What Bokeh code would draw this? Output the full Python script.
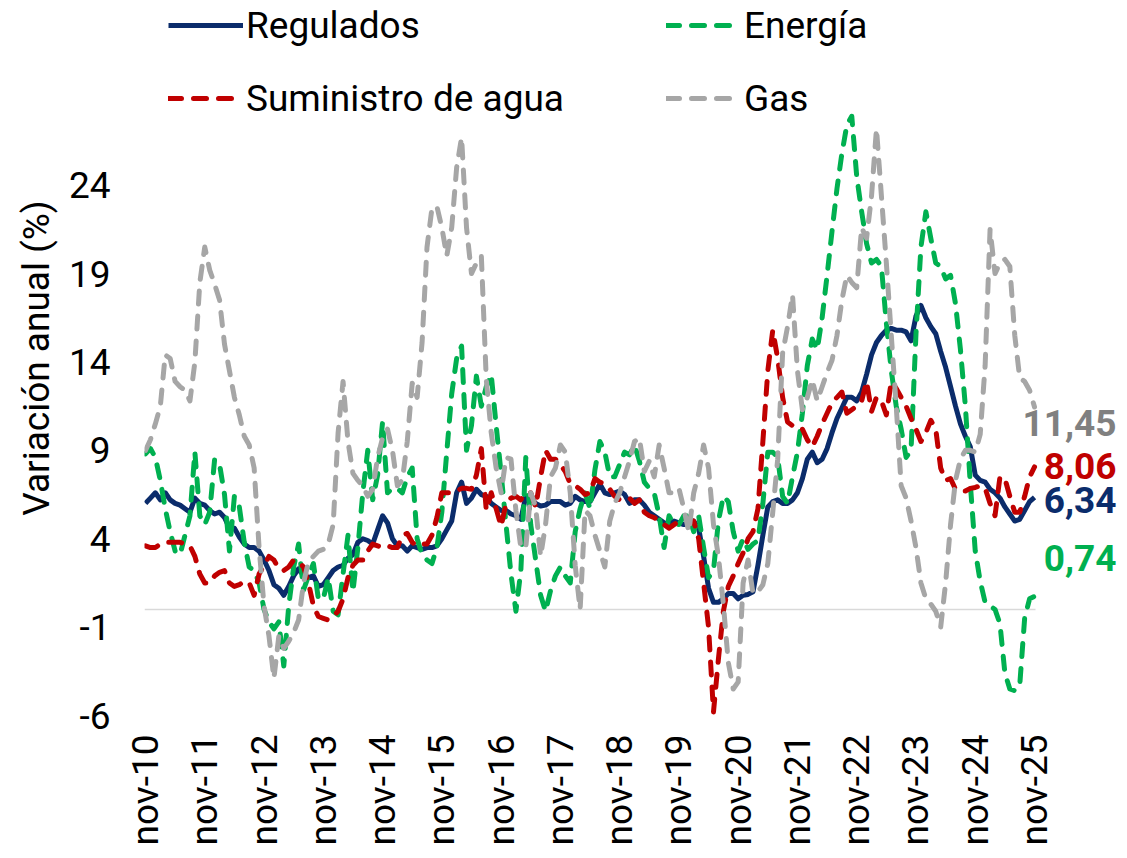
import math
from bokeh.plotting import figure
from bokeh.models import Range1d, FixedTicker, Legend, LegendItem, Label
from bokeh.embed import file_html
from bokeh.resources import INLINE

tick_labels = ["nov-10", "nov-11", "nov-12", "nov-13", "nov-14", "nov-15", "nov-16", "nov-17",
               "nov-18", "nov-19", "nov-20", "nov-21", "nov-22", "nov-23", "nov-24", "nov-25"]
y_ticks = [-6, -1, 4, 9, 14, 19, 24]

regulados = [
    6.0, 6.3, 6.6, 6.2, 6.6, 6.2, 6.0, 5.9, 5.7, 5.5,
    6.3, 6.0, 5.9, 5.6, 5.4, 5.5, 5.2, 4.6, 4.6, 4.1,
    3.7, 3.5, 3.5, 3.3, 2.8, 2.2, 1.4, 1.2, 0.8, 1.3,
    1.9, 2.3, 1.9, 1.8, 1.9, 1.3, 1.4, 1.8, 2.2, 2.4,
    2.5, 2.9, 3.1, 3.8, 4.0, 3.9, 3.7, 4.5, 5.3, 4.9,
    4.0, 3.6, 3.6, 3.3, 3.6, 3.5, 3.4, 3.5, 3.5, 3.6,
    4.0, 4.5, 5.0, 6.6, 7.2, 6.0, 6.3, 6.8, 6.5, 6.4,
    6.0, 5.8, 5.6, 5.6, 5.4, 5.3, 5.1, 6.4, 6.3, 6.0,
    5.85, 5.9, 6.1, 6.1, 6.1, 5.9, 6.0, 6.4, 6.2, 6.1,
    6.1, 6.6, 7.1, 6.6, 6.5, 6.6, 6.7, 6.5, 6.0, 6.2,
    6.2, 5.9, 5.5, 5.3, 5.1, 4.9, 4.8, 5.0, 4.9, 4.8,
    4.9, 5.0, 4.6, 3.0, 1.2, 0.4, 0.4, 0.6, 0.9, 0.9,
    0.6, 0.8, 0.85, 1.0, 2.5, 4.2, 5.8, 6.1, 6.2, 6.0,
    6.0, 6.2, 6.6, 7.4, 8.5, 8.9, 8.3, 8.5, 9.1, 10.0,
    10.8, 11.4, 12.0, 12.0, 11.8, 12.3, 13.3, 14.4, 15.1, 15.5,
    15.8, 15.9, 15.8, 15.8, 15.7, 15.2, 16.6, 17.2, 16.5, 16.0,
    15.6, 14.6, 13.7, 12.6, 11.5, 10.5, 9.8, 9.2, 7.6, 7.3,
    7.2, 6.8, 6.6, 6.3, 5.8, 5.4, 5.0, 5.1, 5.6, 6.1, 6.34]

energia = [
    8.8, 9.1, 8.6, 7.3, 5.7, 4.4, 3.3, 3.1, 4.2, 5.3,
    8.9, 5.3, 4.8, 5.5, 8.5, 8.2, 6.5, 3.3, 6.4, 5.8,
    3.8, 2.4, 2.2, 1.5, 0.0, -0.7, -1.1, -0.7, -3.2, 0.2,
    2.4, 3.7, 1.1, 1.9, 2.6, 0.6, 0.6, 1.8, -0.1, -0.3,
    2.0, 4.2, 1.0, 3.5, 6.6, 9.0, 6.2, 7.6, 10.6, 6.6,
    6.85, 6.85, 6.6, 7.5, 8.0, 4.0, 3.1, 2.8, 2.6, 3.5,
    5.5, 8.9, 12.2, 14.2, 14.9, 9.0, 10.4, 13.2, 11.5, 12.6,
    13.3, 10.4, 7.7, 4.8, 2.0, -0.1, 2.2, 8.6, 4.8, 2.8,
    0.8, -0.1, 1.05, 1.9, 2.4, 1.9, 1.5, 4.4, 5.7, 6.6,
    5.7, 7.9, 9.5, 8.9, 7.5, 7.5, 8.2, 8.9, 8.75, 9.3,
    8.4, 7.2, 6.85, 6.6, 5.3, 3.5, 5.3, 4.8, 4.8, 5.3,
    5.3, 4.4, 5.3, 3.5, 1.8, 2.2, 5.0, 6.4, 6.1, 4.4,
    3.3, 4.0, 3.4, 3.7, 3.9, 6.0, 8.9, 8.9, 8.6, 6.4,
    6.0, 7.5, 8.9, 11.1, 13.8, 15.3, 14.7, 16.5, 18.9, 21.4,
    23.8, 25.8, 27.4, 27.9, 24.5, 22.5, 20.7, 19.6, 19.8, 19.4,
    16.2, 13.5, 11.5, 10.2, 8.6, 9.0, 15.6, 20.5, 22.5, 21.0,
    19.6, 19.4, 18.7, 18.9, 17.3, 14.7, 11.5, 7.1, 3.3, 1.6,
    0.4, 0.2, 0.0, -0.8, -3.6, -4.5, -4.6, -4.3, -0.5, 0.6, 0.74]

suministro = [
    3.6, 3.5, 3.5, 3.7, 3.8, 3.8, 3.8, 3.8, 3.7, 3.6,
    3.0, 2.0, 1.5, 1.5, 1.9, 2.1, 2.2, 1.5, 1.3, 1.4,
    1.6, 1.5, 0.8, 2.0, 2.5, 3.0, 2.8, 2.3, 2.2, 2.4,
    2.8, 2.7, 2.4, 1.5, 0.2, -0.4, -0.5, -0.6, -0.4, -0.1,
    0.6, 1.8, 2.5, 2.8, 2.8, 3.3, 3.7, 3.6, 3.5, 3.6,
    3.5, 3.5, 4.2, 4.3, 3.8, 3.6, 3.7, 3.7, 4.2, 5.2,
    6.6, 6.6, 6.6, 6.7, 6.85, 6.85, 6.8, 7.6, 9.1, 5.6,
    6.6, 5.7, 4.7, 6.0, 6.3, 6.4, 6.2, 6.6, 6.6, 5.8,
    7.5, 9.0, 8.5, 8.5, 8.2, 7.8, 7.1, 7.0, 6.8, 6.5,
    6.6, 7.4, 7.2, 7.1, 6.8, 6.4, 6.2, 6.2, 6.3, 6.0,
    6.2, 5.5, 5.3, 5.2, 5.0, 4.8, 4.6, 4.8, 5.0, 5.1,
    5.1, 5.0, 4.0, 1.5, -1.0, -5.8, -2.8, -0.1, 1.3, 1.9,
    2.6, 3.2, 4.0, 4.4, 5.7, 9.5, 13.5, 15.8, 14.2, 12.0,
    10.6, 10.4, 10.4, 10.2, 9.6, 9.2, 9.8, 10.5, 11.1, 11.7,
    12.0, 12.3, 11.1, 11.3, 11.5, 11.8, 12.9, 11.2, 12.0, 11.8,
    11.0, 12.9, 12.5, 12.0, 11.5, 10.8, 10.2, 9.5, 10.0, 10.7,
    10.2, 8.0, 7.3, 7.4, 6.8, 6.7, 6.7, 6.85, 6.9, 7.0,
    6.85, 6.0, 5.3, 7.5, 7.4, 6.4, 5.5, 5.5, 6.4, 7.5, 8.06]

gas = [
    9.0, 9.6, 10.5, 11.5, 14.4, 14.2, 12.9, 12.6, 12.4, 11.8,
    14.0, 18.5, 20.5, 19.2, 18.4, 17.5, 15.0, 13.5, 12.0, 11.0,
    9.8, 9.3, 8.0, 3.5, 0.2, -1.5, -3.9, -1.5, -2.2, -1.8,
    -1.3, -0.6, 1.5, 2.7, 3.0, 3.3, 3.4, 3.7, 4.8, 10.0,
    12.9, 9.5, 7.7, 7.3, 7.0, 6.4, 6.8, 8.6, 9.7, 10.2,
    9.0, 7.0, 7.3, 9.5, 12.8, 12.0, 15.1, 20.5, 22.7, 22.8,
    21.6, 20.0, 21.6, 25.0, 26.7, 21.6, 19.0, 19.6, 20.0, 13.0,
    10.0, 8.0, 6.6, 8.6, 8.5, 5.6, 3.5, 3.5, 6.6, 5.8,
    3.0, 4.8, 7.5, 8.0, 9.3, 8.9, 6.6, 2.5, 0.0, 5.6,
    5.3, 4.2, 3.3, 2.4, 5.0, 6.0, 6.6, 7.5, 8.4, 9.5,
    9.7, 7.8, 8.4, 7.5, 9.3, 8.0, 6.6, 6.6, 6.85, 5.7,
    4.4, 6.6, 7.7, 9.3, 8.0, 4.8, 3.0, 0.3, -3.0, -4.5,
    -4.1, 1.5, 2.8, 0.9, 1.0, 1.4, 2.6, 5.5, 8.5, 14.5,
    16.0, 17.8, 13.5, 11.3, 12.0, 13.0, 11.8, 12.6, 13.4, 14.1,
    15.5, 17.5, 18.9, 18.5, 18.2, 21.6, 21.0, 23.4, 27.2, 23.4,
    19.6, 15.5, 11.5, 7.0, 6.3, 5.0, 3.5, 1.5, 0.6, 0.3,
    -0.1, -1.0, 1.5, 4.8, 7.3, 8.5, 9.0, 9.0, 8.9, 9.9,
    13.8, 21.5, 19.0, 19.6, 19.8, 19.4, 15.5, 13.1, 12.9, 12.4, 11.45]

series_names = ["Regulados", "Energía", "Suministro de agua", "Gas"]

months = list(range(len(regulados)))

NAVY = "#0B2C6B"
GREEN = "#00B050"
RED = "#C00000"
GRAY = "#A6A6A6"
GRAY_TXT = "#808080"
FONT = "Roboto"
FS = "37px"

# frame covers the plot area plus the legend band on top and the label band on the right
p = figure(width=1117, height=848, output_backend="svg", toolbar_location=None,
           x_range=Range1d(-0.2, 196.8), y_range=Range1d(-6, 34.45),
           min_border_left=144, min_border_right=0, min_border_top=0, min_border_bottom=132)
p.outline_line_color = None
p.xgrid.grid_line_color = None
p.ygrid.grid_line_color = None
p.background_fill_color = "white"
p.border_fill_color = "white"

# zero line across the data span
p.line([months[0] - 0.2, months[-1] + 0.2], [0, 0], line_color="#D9D9D9", line_width=1.5)

dash = "13 12"
LW = 5
r_reg = p.line(months, regulados, line_color=NAVY, line_width=LW, line_join="round")
r_ene = p.line(months, energia, line_color=GREEN, line_width=LW, line_dash=dash,
               line_cap="round", line_join="round")
r_sum = p.line(months, suministro, line_color=RED, line_width=LW, line_dash=dash,
               line_cap="round", line_join="round")
r_gas = p.line(months, gas, line_color=GRAY, line_width=LW, line_dash=dash,
               line_cap="round", line_join="round")

# axes
xa = p.xaxis[0]
xa.ticker = FixedTicker(ticks=[12 * i for i in range(len(tick_labels))])
xa.major_label_overrides = {12 * i: t for i, t in enumerate(tick_labels)}
xa.major_label_orientation = math.pi / 2
xa.axis_line_color = None
xa.major_tick_line_color = None
xa.minor_tick_line_color = None
xa.major_tick_out = 0
xa.major_tick_in = 0
xa.major_label_standoff = 19
xa.major_label_text_font = FONT
xa.major_label_text_font_size = FS
xa.major_label_text_color = "black"

ya = p.yaxis[0]
ya.ticker = FixedTicker(ticks=y_ticks)
ya.major_label_overrides = {t: str(t) for t in y_ticks}
ya.axis_line_color = None
ya.major_tick_line_color = None
ya.minor_tick_line_color = None
ya.major_tick_out = 0
ya.major_tick_in = 0
ya.major_label_standoff = 34
ya.major_label_text_font = FONT
ya.major_label_text_font_size = FS
ya.major_label_text_color = "black"
ya.axis_label = "Variación anual (%)"
ya.axis_label_text_font = FONT
ya.axis_label_text_font_size = FS
ya.axis_label_text_font_style = "normal"
ya.axis_label_text_color = "black"
ya.axis_label_standoff = 8

# legends (two rows)
def make_legend(items, loc):
    return Legend(items=items, orientation="horizontal", location=loc,
                  label_text_font=FONT, label_text_font_size=FS, label_text_color="black",
                  glyph_width=75, glyph_height=44, label_height=44, label_standoff=3,
                  label_width=400, spacing=20, padding=0, margin=0, border_line_color=None,
                  background_fill_alpha=0)

p.add_layout(make_legend([LegendItem(label=series_names[0], renderers=[r_reg]),
                          LegendItem(label=series_names[1], renderers=[r_ene])], (24, 668)))
p.add_layout(make_legend([LegendItem(label=series_names[2], renderers=[r_sum]),
                          LegendItem(label=series_names[3], renderers=[r_gas])], (24, 595)))

# end-value labels
def fmt(v):
    return f"{v:.2f}".replace(".", ",")

end_label_y = [10.55, 8.12, 6.2, 2.93]
end_series = [(gas, GRAY_TXT), (suministro, RED), (regulados, NAVY), (energia, GREEN)]
for (s, c), ly in zip(end_series, end_label_y):
    p.add_layout(Label(x=months[-1], y=ly, x_offset=82, text=fmt(s[-1]), text_align="right",
                       text_baseline="middle", text_font=FONT, text_font_size=FS,
                       text_font_style="bold", text_color=c))

open("out.html", "w").write(file_html(p, INLINE))
